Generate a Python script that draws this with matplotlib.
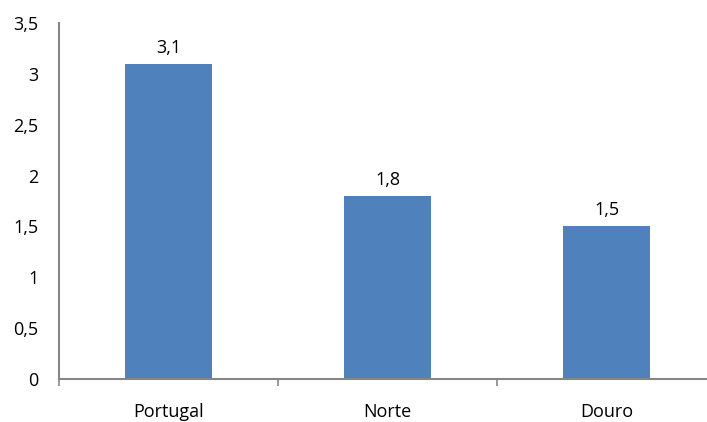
import matplotlib.pyplot as plt
from matplotlib.ticker import FuncFormatter

regions = ['Portugal', 'Norte', 'Douro']
values = [3.1, 1.8, 1.5]
y_ticks = [0, 0.5, 1, 1.5, 2, 2.5, 3, 3.5]

plt.rcParams['font.family'] = ['Open Sans', 'DejaVu Sans']
fs = 13

W, H = 707, 422
fig = plt.figure(figsize=(W / 100, H / 100), dpi=100)
# plot area: left 59px, bottom 379px, top (3.5) at 23px, right runs past the edge
left, right, top, bottom = 59, 716, 23, 379
ax = fig.add_axes([left / W, 1 - bottom / H, (right - left) / W, (bottom - top) / H])

bars = ax.bar(range(len(regions)), values, width=0.4, color='#4F81BD')
ax.set_xlim(-0.5, len(regions) - 0.5)
ax.set_ylim(0, 3.5)

for i, v in enumerate(values):
    ax.annotate(f'{v:.1f}'.replace('.', ','), (i, v), xytext=(0, 5),
                textcoords='offset points', ha='center', va='bottom', fontsize=fs)

gray = '#868686'
for s in ['top', 'right']:
    ax.spines[s].set_visible(False)
for s in ['left', 'bottom']:
    ax.spines[s].set_color(gray)
    ax.spines[s].set_linewidth(1.5)

ax.set_yticks(y_ticks)
ax.yaxis.set_major_formatter(FuncFormatter(lambda y, _: f'{y:g}'.replace('.', ',')))
ax.tick_params(axis='y', length=0, pad=15, labelsize=fs)

# category ticks at the boundaries, labels in the middle
ax.set_xticks([-0.5, 0.5, 1.5, 2.5])
ax.set_xticklabels([])
ax.set_xticks(range(len(regions)), minor=True)
ax.set_xticklabels(regions, minor=True)
ax.tick_params(axis='x', which='major', direction='out', length=5, color=gray, width=1.2)
ax.tick_params(axis='x', which='minor', length=0, pad=17, labelsize=fs)

plt.savefig('out.png', dpi=100)
